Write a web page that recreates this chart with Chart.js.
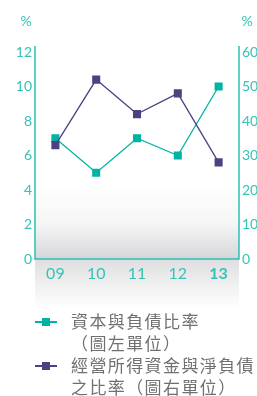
<!DOCTYPE html>
<html>
<head>
<meta charset="utf-8">
<script src="https://cdn.jsdelivr.net/npm/chart.js@4"></script>
<style>
  body { margin: 0; background: #fff; width: 257px; height: 396px; overflow: hidden; position: relative; }
  #wrap { position: absolute; left: 0; top: 0; width: 257px; height: 310px; }
  .legend { position: absolute; left: 0; top: 310px; width: 257px; font-family: "Noto Sans CJK TC", sans-serif; color: #707070; font-size: 17px; line-height: 22px; letter-spacing: 1.4px; }
  .item { position: relative; padding-left: 71px; }
  .mark { position: absolute; left: 35px; top: 11px; width: 22px; height: 1.5px; }
  .mark i { position: absolute; left: 7px; top: -3.5px; width: 8px; height: 8px; }
</style>
</head>
<body>
<div id="wrap"><canvas id="chart" width="257" height="310"></canvas></div>
<div class="legend">
  <div class="item"><span class="mark" style="background:#00b3a4"><i style="background:#00b3a4"></i></span>資本與負債比率<br>（圖左單位）</div>
  <div class="item"><span class="mark" style="background:#4b4282"><i style="background:#4b4282"></i></span>經營所得資金與淨負債<br>之比率（圖右單位）</div>
</div>
<script>
const years = ['09', '10', '11', '12', '13'];
const capitalRatio = [7, 5, 7, 6, 10];       // left axis, %
const fundsRatio = [33, 52, 42, 48, 28];      // right axis, %
const leftTicks = [0, 2, 4, 6, 8, 10, 12];
const rightTicks = [0, 10, 20, 30, 40, 50, 60];

const TEAL = '#00b3a4';
const PURPLE = '#4b4282';
const TICK = '#35c3b6';

// background shading + axis lines + % titles, drawn before the scales
const decor = {
    id: 'decor',
    beforeDraw(chart) {
        const ctx = chart.ctx;
        const a = chart.chartArea;
        ctx.save();
        let g = ctx.createLinearGradient(0, a.bottom - 75, 0, a.bottom);
        g.addColorStop(0, 'rgba(214,214,217,0)');
        g.addColorStop(0.55, 'rgba(214,214,217,0.25)');
        g.addColorStop(1, 'rgba(214,214,217,1)');
        ctx.fillStyle = g;
        ctx.fillRect(a.left, a.bottom - 75, a.right - a.left, 75);
        g = ctx.createLinearGradient(0, a.bottom, 0, a.bottom + 51);
        g.addColorStop(0, 'rgba(222,222,224,1)');
        g.addColorStop(0.5, 'rgba(240,240,241,1)');
        g.addColorStop(1, 'rgba(255,255,255,1)');
        ctx.fillStyle = g;
        ctx.fillRect(a.left, a.bottom, a.right - a.left, 51);

        ctx.strokeStyle = '#2cc0b2';
        ctx.lineWidth = 1.5;
        ctx.beginPath();
        ctx.moveTo(a.left, a.top - 6);
        ctx.lineTo(a.left, a.bottom);
        ctx.lineTo(a.right, a.bottom);
        ctx.lineTo(a.right, a.top - 6);
        ctx.stroke();

        ctx.fillStyle = TICK;
        ctx.font = '14px Lato, sans-serif';
        ctx.textAlign = 'center';
        ctx.textBaseline = 'middle';
        ctx.fillText('%', 26, 21);
        ctx.fillText('%', 247, 21);
        ctx.restore();
    }
};

new Chart(document.getElementById('chart'), {
    type: 'line',
    data: {
        labels: years,
        datasets: [
            {
                label: '經營所得資金與淨負債之比率（圖右單位）',
                data: fundsRatio,
                yAxisID: 'y2',
                borderColor: PURPLE,
                backgroundColor: PURPLE,
                borderWidth: 1.3,
                pointStyle: 'rect',
                pointRadius: 5.7,
                pointBorderWidth: 0,
                order: 0
            },
            {
                label: '資本與負債比率（圖左單位）',
                data: capitalRatio,
                yAxisID: 'y',
                borderColor: TEAL,
                backgroundColor: TEAL,
                borderWidth: 1.3,
                pointStyle: 'rect',
                pointRadius: 5.7,
                pointBorderWidth: 0,
                order: 1
            }
        ]
    },
    options: {
        responsive: false,
        animation: false,
        layout: { padding: { top: 52, left: 0, right: 0, bottom: 0 } },
        plugins: { legend: { display: false }, tooltip: { enabled: false } },
        scales: {
            x: {
                offset: true,
                grid: { display: false, drawTicks: false },
                border: { display: false },
                ticks: {
                    color: TICK,
                    padding: 5,
                    maxRotation: 0,
                    autoSkip: false,
                    font: (c) => ({ family: 'Lato, sans-serif', size: 16, weight: c.index === 4 ? 'bold' : 'normal' })
                },
                afterFit(s) { s.height = 51; }
            },
            y: {
                position: 'left',
                min: 0, max: 12,
                afterBuildTicks(s) { s.ticks = leftTicks.map(v => ({ value: v })); },
                grid: { display: false, drawTicks: false },
                border: { display: false },
                ticks: { color: TICK, padding: 3, font: { family: 'Lato, sans-serif', size: 14 } },
                afterFit(s) { s.width = 35; }
            },
            y2: {
                position: 'right',
                min: 0, max: 60,
                afterBuildTicks(s) { s.ticks = rightTicks.map(v => ({ value: v })); },
                grid: { display: false, drawTicks: false },
                border: { display: false },
                ticks: { color: TICK, padding: 3, font: { family: 'Lato, sans-serif', size: 14 } },
                afterFit(s) { s.width = 18; }
            }
        }
    },
    plugins: [decor]
});
</script>
</body>
</html>
